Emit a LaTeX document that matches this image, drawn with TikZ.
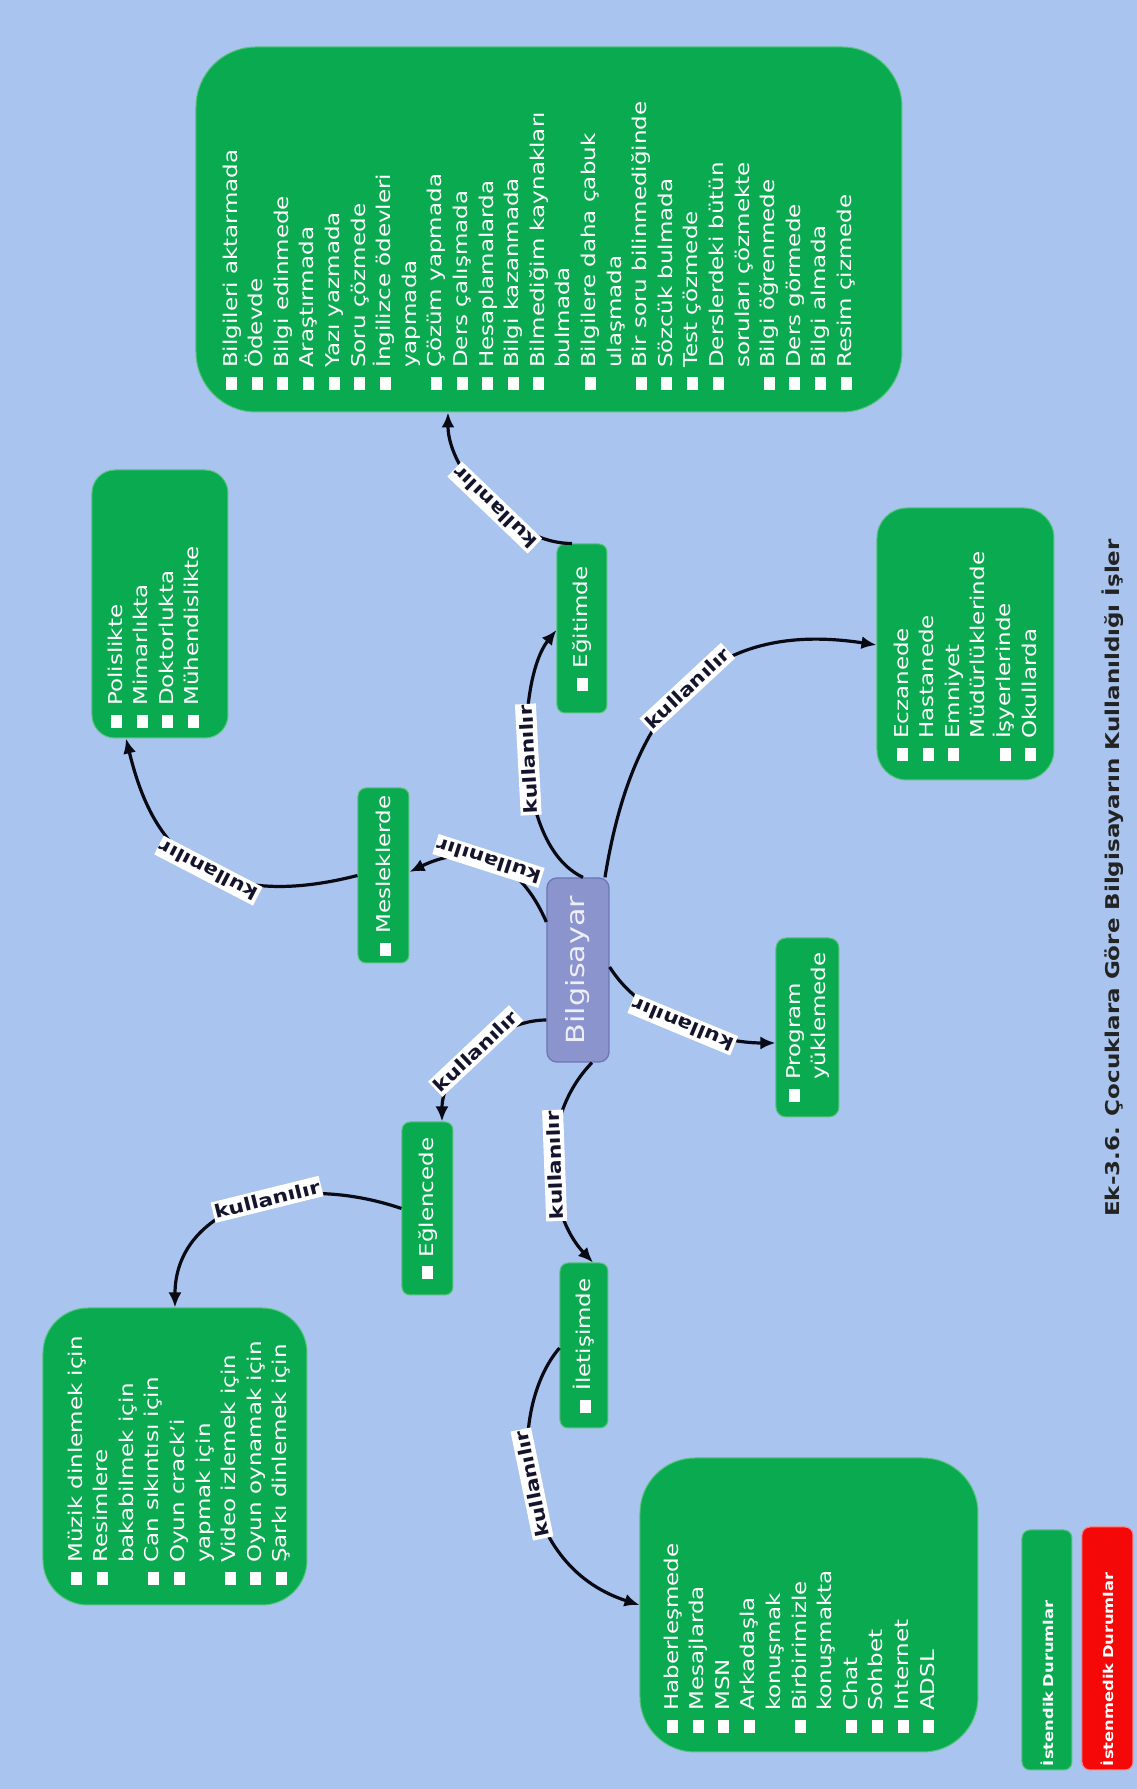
\documentclass[tikz,border=0pt]{standalone}
\usepackage{fontspec}
\setmainfont{DejaVu Sans}[FakeStretch=1.21]
\usetikzlibrary{arrows.meta}

\definecolor{bgblue}{RGB}{169,196,238}
\definecolor{grn}{RGB}{10,170,80}
\definecolor{grnedge}{RGB}{90,195,125}
\definecolor{bilgfill}{RGB}{140,148,206}
\definecolor{bilgedge}{RGB}{110,116,180}
\definecolor{lblink}{RGB}{20,20,45}
\definecolor{redbox}{RGB}{245,8,8}
\definecolor{rededge}{RGB}{255,130,130}
\definecolor{capink}{RGB}{35,35,35}

% bulleted line and continuation line of a list
\newcommand\itemline[1]{\rule{0pt}{15pt}\rule{13pt}{11pt}\hspace{9pt}#1}
\newcommand\contline[1]{\rule{0pt}{15pt}\hspace{22pt}#1}

\tikzset{
  topic/.style={fill=grn, draw=grnedge, line width=1pt, rounded corners=8pt,
    text=white, inner sep=0pt, font=\fontsize{19pt}{25.6pt}\selectfont},
  listbox/.style={fill=grn, draw=grnedge, line width=1pt, inner sep=0pt},
  listtext/.style={anchor=north west, inner sep=0pt, align=left, text=white,
    font=\fontsize{19pt}{25.6pt}\selectfont},
  centre/.style={fill=bilgfill, draw=bilgedge, line width=1.3pt, rounded corners=10pt,
    text={rgb,255:red,238;green,238;blue,250}, font=\fontsize{25pt}{25pt}\selectfont,
    minimum width=184pt, minimum height=62pt, inner sep=0pt},
  conn/.style={line width=3.2pt, draw={rgb,255:red,10;green,10;blue,20},
    -{Latex[length=15pt,width=13pt]}},
  lbl/.style={sloped, fill=white, text=lblink, inner xsep=1.5pt, inner ysep=3.5pt,
    font=\bfseries\fontsize{18pt}{18pt}\selectfont},
  legendbox/.style={line width=1pt, rounded corners=8pt, text=white, align=left,
    inner ysep=0pt, inner xsep=4pt, font=\bfseries\fontsize{13.5pt}{13.5pt}\selectfont},
}

\begin{document}
\begin{tikzpicture}[x=1pt, y=1pt, rotate=90, transform shape]
\useasboundingbox (0,0) rectangle (1789,1137);
\fill[bgblue] (0,0) rectangle (1789,1137);

% central topic and first level branches
\node[centre] (bilg) at (819,559) {Bilgisayar};
\node[topic, minimum width=175pt, minimum height=51pt] (mesl) at (913.5,753.5) {\itemline{Mesleklerde}};
\node[topic, minimum width=169pt, minimum height=50pt] (egit) at (1160.5,555) {\itemline{Eğitimde}};
\node[topic, minimum width=173pt, minimum height=51pt] (eglc) at (580.5,709.5) {\itemline{Eğlencede}};
\node[topic, minimum width=165pt, minimum height=48pt] (ilet) at (443.5,553) {\itemline{İletişimde}};
\node[listbox, rounded corners=10pt, minimum width=179pt, minimum height=63pt] (prog) at (761.5,329.5) {};
\node[listtext] (progtxt) at (687,352) {\itemline{Program}\\ \contline{yüklemede}};
\node[listbox, rounded corners=30pt, minimum width=272pt, minimum height=177pt] (ecz) at (1145,171.5) {};
\node[listtext] (ecztxt) at (1028,244) {\itemline{Eczanede}\\ \itemline{Hastanede}\\
  \itemline{Emniyet}\\ \contline{Müdürlüklerinde}\\ \itemline{İşyerlerinde}\\ \itemline{Okullarda}};

% second level lists
\node[listbox, rounded corners=60pt, minimum width=365pt, minimum height=706pt] (edu) at (1559.5,588) {};
\node[listtext] (edutxt) at (1399,915) {\itemline{Bilgileri aktarmada}\\ \itemline{Ödevde}\\
  \itemline{Bilgi edinmede}\\ \itemline{Araştırmada}\\ \itemline{Yazı yazmada}\\
  \itemline{Soru çözmede}\\ \itemline{İngilizce ödevleri}\\ \contline{yapmada}\\
  \itemline{Çözüm yapmada}\\ \itemline{Ders çalışmada}\\ \itemline{Hesaplamalarda}\\
  \itemline{Bilgi kazanmada}\\ \itemline{Bilmediğim kaynakları}\\ \contline{bulmada}\\
  \itemline{Bilgilere daha çabuk}\\ \contline{ulaşmada}\\ \itemline{Bir soru bilinmediğinde}\\
  \itemline{Sözcük bulmada}\\ \itemline{Test çözmede}\\ \itemline{Derslerdeki bütün}\\
  \contline{soruları çözmekte}\\ \itemline{Bilgi öğrenmede}\\ \itemline{Ders görmede}\\
  \itemline{Bilgi almada}\\ \itemline{Resim çizmede}};

\node[listbox, rounded corners=23pt, minimum width=268pt, minimum height=136pt] (meslist) at (1185,977) {};
\node[listtext] (meslisttxt) at (1061,1030) {\itemline{Polislikte}\\ \itemline{Mimarlıkta}\\
  \itemline{Doktorlukta}\\ \itemline{Mühendislikte}};

\node[listbox, rounded corners=45pt, minimum width=297pt, minimum height=264pt] (eglclist) at (332.5,962) {};
\node[listtext] (eglctxt) at (204,1070) {\itemline{Müzik dinlemek için}\\ \itemline{Resimlere}\\
  \contline{bakabilmek için}\\ \itemline{Can sıkıntısı için}\\ \itemline{Oyun crack'i}\\
  \contline{yapmak için}\\ \itemline{Video izlemek için}\\ \itemline{Oyun oynamak için}\\
  \itemline{Şarkı dinlemek için}};

\node[listbox, rounded corners=55pt, minimum width=294pt, minimum height=338pt] (iletlist) at (184,328) {};
\node[listtext] (ilettxt) at (56,474) {\itemline{Haberleşmede}\\ \itemline{Mesajlarda}\\
  \itemline{MSN}\\ \itemline{Arkadaşla}\\ \contline{konuşmak}\\ \itemline{Birbirimizle}\\
  \contline{konuşmakta}\\ \itemline{Chat}\\ \itemline{Sohbet}\\ \itemline{Internet}\\
  \itemline{ADSL}};

% connectors
\draw[conn] ([xshift=48pt]bilg.north) .. controls (935,620) and (945,670) ..
  ([xshift=3.5pt]mesl.south) node[lbl, pos=0.5] {kullanılır};
\draw[conn] ([yshift=-5pt]bilg.east) .. controls (945,625) and (1110,620) ..
  ([xshift=-1.5pt]egit.north) node[lbl, pos=0.5] {kullanılır};
\draw[conn] ([yshift=10pt]egit.east) .. controls (1245,625) and (1318,689) ..
  ([yshift=101pt]edu.west) node[lbl, pos=0.45] {kullanılır};
\draw[conn] ([yshift=-27pt]bilg.east) .. controls (1080,505) and (1170,430) ..
  ([xshift=-1pt]ecz.north) node[lbl, pos=0.5] {kullanılır};
\draw[conn] ([xshift=3pt]bilg.south) .. controls (770,495) and (746,420) ..
  ([xshift=-15.5pt]prog.north) node[lbl, pos=0.5] {kullanılır};
\draw[conn] ([xshift=-50pt]bilg.north) .. controls (769,640) and (720,695) ..
  ([yshift=-14.5pt]eglc.east) node[lbl, pos=0.5] {kullanılır};
\draw[conn] (eglc.north) .. controls (619,849) and (581,962) ..
  (eglclist.east) node[lbl, pos=0.42] {kullanılır};
\draw[conn] ([yshift=-14pt]bilg.west) .. controls (670,600) and (575,590) ..
  ([yshift=-9pt]ilet.east) node[lbl, pos=0.5] {kullanılır};
\draw[conn] ([xshift=-2.5pt]ilet.north) .. controls (380,630) and (225,625) ..
  (iletlist.north) node[lbl, pos=0.5] {kullanılır};
\draw[conn] (mesl.north) .. controls (870,950) and (965,990) ..
  ([yshift=34pt]meslist.west) node[lbl, pos=0.4] {kullanılır};

% legend and caption
\node[legendbox, fill=grn, draw=grnedge, text width=232pt, minimum height=50pt] (leg1) at (139,90) {İstendik Durumlar};
\node[legendbox, fill=redbox, draw=rededge, text width=235pt, minimum height=51pt] (leg2) at (140.5,29.5) {İstenmedik Durumlar};
\node[anchor=base, inner sep=0pt, text=capink, font=\bfseries\fontsize{19pt}{19pt}\selectfont] (cap) at (911,17)
  {Ek-3.6. Çocuklara Göre Bilgisayarın Kullanıldığı İşler};
\end{tikzpicture}
\end{document}
